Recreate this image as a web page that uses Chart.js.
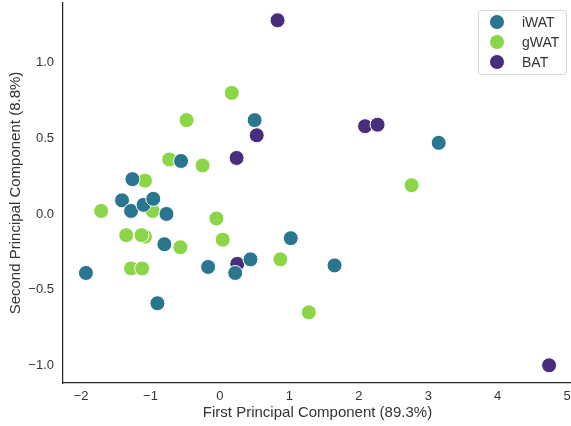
<!DOCTYPE html>
<html>
<head>
<meta charset="utf-8">
<script src="https://cdn.jsdelivr.net/npm/chart.js@4.4.1/dist/chart.umd.min.js"></script>
<style>
  html, body { margin: 0; padding: 0; background: #fff; overflow: hidden; }
  #wrap { width: 600px; height: 426px; }
</style>
</head>
<body>
<div id="wrap"><canvas id="pca"></canvas></div>
<script>
// PCA scores
let groups = ['iWAT', 'gWAT', 'BAT']
let colors = ['#2a768e', '#8bd646', '#472d7b']

let iwatX = [-1.93, -1.41, -1.26, -1.28, -1.10, -0.96, -0.77, -0.56, -0.80, -0.90, -0.17, 0.22, 0.44, 0.50, 1.02, 1.65, 3.15]
let iwatY = [-0.39, 0.09, 0.23, 0.02, 0.06, 0.10, 0.00, 0.35, -0.20, -0.59, -0.35, -0.39, -0.30, 0.62, -0.16, -0.34, 0.47]

let gwatX = [-1.71, -1.08, -0.97, -1.35, -1.08, -1.13, -1.28, -1.12, -0.57, -0.73, -0.48, -0.25, 0.17, -0.05, 0.04, 0.87, 1.28, 2.76]
let gwatY = [0.02, 0.22, 0.02, -0.14, -0.15, -0.14, -0.36, -0.36, -0.22, 0.36, 0.62, 0.32, 0.80, -0.03, -0.17, -0.30, -0.65, 0.19]

let batX = [0.83, 0.53, 0.24, 0.25, 2.09, 2.27, 4.74]
let batY = [1.28, 0.52, 0.37, -0.33, 0.58, 0.59, -1.00]

let xTicks = [-2, -1, 0, 1, 2, 3, 4, 5]
let yTicks = [-1.0, -0.5, 0.0, 0.5, 1.0]

let toPoints = (xs, ys) => xs.map((x, i) => ({ x: x, y: ys[i] }))
let series = [toPoints(iwatX, iwatY), toPoints(gwatX, gwatY), toPoints(batX, batY)]

let ink = '#262626'
let txt = '#333333'
let family = '"Liberation Sans", Arial, sans-serif'
let tickFont = { family: family, size: 13 }
let titleFont = { family: family, size: 15 }

// legend in a framed box, top right of the plot
let boxLegend = {
  id: 'boxLegend',
  afterDraw(chart) {
    let ctx = chart.ctx
    let x0 = 478, y0 = 10, w = 88, h = 64
    ctx.save()
    ctx.fillStyle = 'rgba(255,255,255,0.8)'
    ctx.strokeStyle = '#d6d6d6'
    ctx.lineWidth = 1
    ctx.beginPath()
    ctx.roundRect(x0 + 0.5, y0 + 0.5, w, h, 3)
    ctx.fill()
    ctx.stroke()
    chart.data.datasets.forEach((ds, i) => {
      let cy = y0 + 12 + i * 20
      ctx.beginPath()
      ctx.arc(x0 + 19, cy, 7.5, 0, Math.PI * 2)
      ctx.fillStyle = ds.backgroundColor
      ctx.fill()
      ctx.strokeStyle = '#fff'
      ctx.stroke()
      ctx.fillStyle = txt
      ctx.font = '14px ' + family
      ctx.textBaseline = 'middle'
      ctx.fillText(ds.label, x0 + 44, cy + 1)
    })
    ctx.restore()
  }
}

new Chart(document.getElementById('pca'), {
  type: 'scatter',
  data: {
    datasets: groups.map((g, i) => ({
      label: g,
      data: series[i],
      backgroundColor: colors[i],
      borderColor: '#ffffff',
      borderWidth: 1,
      pointRadius: 7.5,
      pointHoverRadius: 7.5
    }))
  },
  options: {
    responsive: true,
    maintainAspectRatio: false,
    animation: false,
    events: [],
    layout: { autoPadding: false, padding: { top: 3, right: 28, left: 0, bottom: 0 } },
    plugins: { legend: { display: false }, tooltip: { enabled: false } },
    scales: {
      x: {
        type: 'linear',
        min: -2.26,
        max: 5.07,
        afterBuildTicks: (s) => { s.ticks = xTicks.map(v => ({ value: v })) },
        afterFit: (s) => { s.height = 43; s.paddingLeft = 0; s.paddingRight = 0 },
        grid: { display: false, drawTicks: false },
        border: { display: true, color: ink, width: 1.25 },
        ticks: { color: txt, font: tickFont, padding: 6, callback: v => String(v).replace('-', '\u2212') },
        title: { display: true, text: 'First Principal Component (89.3%)', color: txt, font: titleFont, padding: { top: 0, bottom: 4 } }
      },
      y: {
        type: 'linear',
        min: -1.117,
        max: 1.394,
        afterBuildTicks: (s) => { s.ticks = yTicks.map(v => ({ value: v })) },
        afterFit: (s) => { s.width = 63; s.paddingTop = 0; s.paddingBottom = 0 },
        grid: { display: false, drawTicks: false },
        border: { display: true, color: ink, width: 1.25 },
        ticks: { color: txt, font: tickFont, padding: 9, callback: v => v.toFixed(1).replace('-', '\u2212') },
        title: { display: true, text: 'Second Principal Component (8.8%)', color: txt, font: titleFont, padding: { top: 7, bottom: 4 } }
      }
    }
  },
  plugins: [boxLegend]
})
</script>
</body>
</html>
